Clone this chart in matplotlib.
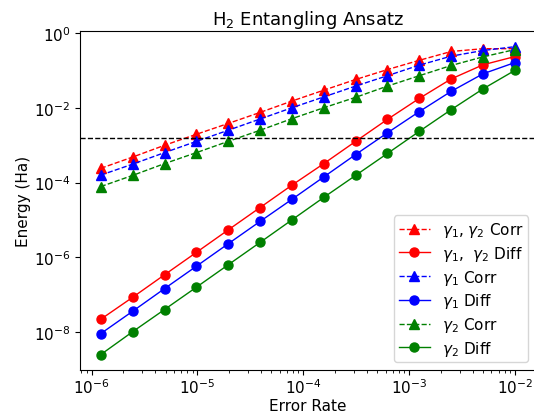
import numpy as np
import matplotlib
matplotlib.use('Agg')
import matplotlib.pyplot as plt

plt.rcParams['font.size'] = 11
plt.rcParams['axes.titlesize'] = 13

# error rates (halving from 1e-2)
err = [1.2207e-6, 2.4414e-6, 4.8828e-6, 9.7656e-6, 1.9531e-5, 3.9063e-5, 7.8125e-5,
       1.5625e-4, 3.125e-4, 6.25e-4, 1.25e-3, 2.5e-3, 5e-3, 1e-2]

# energies (Ha)
g12_corr = [2.4e-4, 4.8e-4, 9.9e-4, 1.95e-3, 3.8e-3, 7.5e-3, 1.51e-2,
            2.95e-2, 5.7e-2, 0.105, 0.186, 0.32, 0.38, 0.38]
g12_diff = [2.2e-8, 8.5e-8, 3.4e-7, 1.35e-6, 5.4e-6, 2.14e-5, 8.5e-5,
            3.2e-4, 1.26e-3, 4.9e-3, 1.78e-2, 5.9e-2, 0.141, 0.234]
g1_corr = [1.58e-4, 3.1e-4, 6.3e-4, 1.26e-3, 2.5e-3, 5.0e-3, 1.0e-2,
           1.95e-2, 3.8e-2, 7.2e-2, 0.138, 0.24, 0.34, 0.43]
g1_diff = [9.1e-9, 3.6e-8, 1.45e-7, 5.75e-7, 2.3e-6, 9.1e-6, 3.55e-5,
           1.41e-4, 5.6e-4, 2.14e-3, 7.9e-3, 2.75e-2, 8.1e-2, 0.162]
g2_corr = [7.8e-5, 1.55e-4, 3.2e-4, 6.3e-4, 1.26e-3, 2.5e-3, 5.1e-3,
           1.0e-2, 1.9e-2, 3.8e-2, 7.2e-2, 0.135, 0.23, 0.36]
g2_diff = [2.5e-9, 1.02e-8, 4.0e-8, 1.58e-7, 6.3e-7, 2.5e-6, 1.0e-5,
           4.0e-5, 1.55e-4, 6.0e-4, 2.34e-3, 8.9e-3, 3.2e-2, 0.1]

chem_acc = 1.6e-3

fig = plt.figure(figsize=(5.34, 4.14), dpi=100)
ax = fig.add_axes([0.15, 0.104, 0.853, 0.818])

ax.plot(err, g12_corr, 'r^--', lw=1, ms=6.5, label=r'$\gamma_1$, $\gamma_2$ Corr')
ax.plot(err, g12_diff, 'ro-', lw=1, ms=6.5, label=r'$\gamma_1$,  $\gamma_2$ Diff')
ax.plot(err, g1_corr, 'b^--', lw=1, ms=6.5, label=r'$\gamma_1$ Corr')
ax.plot(err, g1_diff, 'bo-', lw=1, ms=6.5, label=r'$\gamma_1$ Diff')
ax.plot(err, g2_corr, 'g^--', lw=1, ms=6.5, label=r'$\gamma_2$ Corr')
ax.plot(err, g2_diff, 'go-', lw=1, ms=6.5, label=r'$\gamma_2$ Diff')
ax.axhline(chem_acc, color='k', ls='--', lw=1)

ax.set_xscale('log')
ax.set_yscale('log')
ax.tick_params(axis='x', pad=2)
ax.set_xlabel('Error Rate', labelpad=1)
ax.set_ylabel('Energy (Ha)', labelpad=2)
ax.set_title(r'H$_2$ Entangling Ansatz', pad=5)
ax.legend(loc='lower right', labelspacing=0.31, borderpad=0.3,
          handlelength=2.0, borderaxespad=0.5)

fig.savefig('out.png', dpi=100)
